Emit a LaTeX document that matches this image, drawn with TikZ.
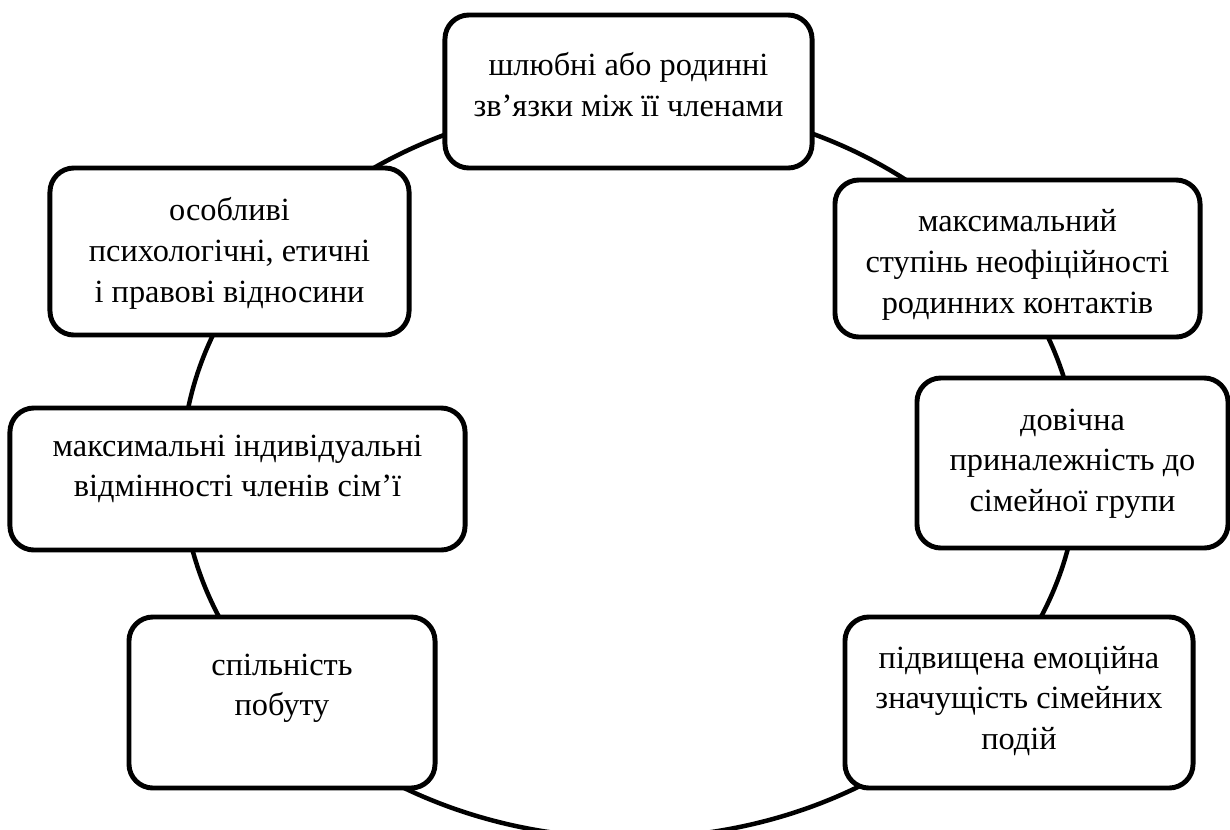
\documentclass[tikz,border=0pt]{standalone}
\usepackage{fontspec}
\setmainfont{Liberation Serif}
\usetikzlibrary{positioning}

\tikzset{
  box/.style={draw=black, fill=white, line width=3.5pt, rounded corners=0.6cm},
  lbl/.style={align=center, inner sep=0pt, font=\fontsize{23}{29}\selectfont},
}

\begin{document}
\begin{tikzpicture}[x=0.025cm, y=-0.025cm]
  \useasboundingbox (0,0) rectangle (1230,829);

  % the ring behind the boxes
  \draw[line width=3.2pt] (630,470) ellipse [x radius=11.2cm, y radius=9.2cm];

  \node[box, minimum width=9.175cm, minimum height=3.825cm] (rel) at (628.5,91.5) {};
  \node[lbl, below=1.0cm of rel.north] (relt) {шлюбні або родинні\\зв’язки між її членами};

  \node[box, minimum width=8.975cm, minimum height=4.175cm] (psy) at (229.5,251.5) {};
  \node[lbl, below=0.8cm of psy.north] (psyt) {особливі\\психологічні, етичні\\і правові відносини};

  \node[box, minimum width=11.375cm, minimum height=3.55cm] (ind) at (237.5,479) {};
  \node[lbl, below=0.72cm of ind.north] (indt) {максимальні індивідуальні\\відмінності членів сім’ї};

  \node[box, minimum width=7.65cm, minimum height=4.275cm] (bud) at (282,702.5) {};
  \node[lbl, below=0.97cm of bud.north] (budt) {спільність\\побуту};

  \node[box, minimum width=9.125cm, minimum height=3.925cm] (inf) at (1017.5,258.5) {};
  \node[lbl, below=0.8cm of inf.north] (inft) {максимальний\\ступінь неофіційності\\родинних контактів};

  \node[box, minimum width=7.775cm, minimum height=4.25cm] (life) at (1072.5,463) {};
  \node[lbl, below=0.82cm of life.north] (lifet) {довічна\\приналежність до\\сімейної групи};

  \node[box, minimum width=8.7cm, minimum height=4.275cm] (emo) at (1019,702.5) {};
  \node[lbl, below=0.78cm of emo.north] (emot) {підвищена емоційна\\значущість сімейних\\подій};
\end{tikzpicture}
\end{document}
